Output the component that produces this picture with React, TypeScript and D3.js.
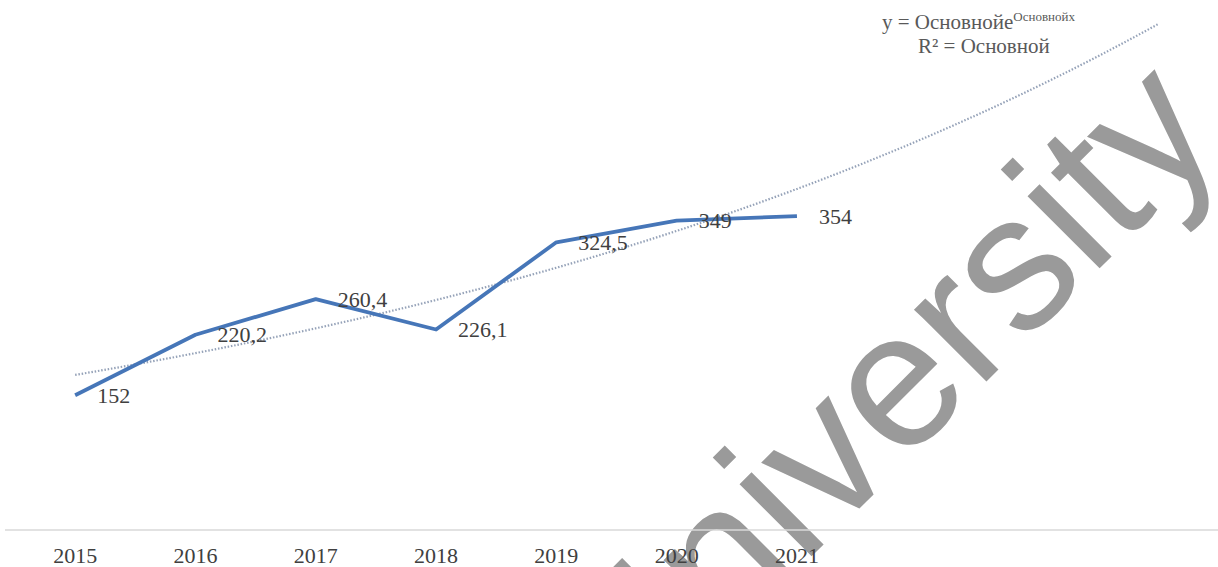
import React from "react";
import * as d3 from "d3";

const years = ["2015", "2016", "2017", "2018", "2019", "2020", "2021"];
const forecastYears = ["2022", "2023", "2024"];
const values = [152, 220.2, 260.4, 226.1, 324.5, 349, 354];
const valueLabels = ["152", "220,2", "260,4", "226,1", "324,5", "349", "354"];
const equationMain = "y = Основнойe";
const equationSup = "Основнойx";
const equationR2 = "R² = Основной";
const watermark = "University";

const W = 1218;
const H = 567;

export default function App() {
  const allYears = [...years, ...forecastYears];
  const x = d3.scalePoint<string>().domain(allYears).range([15, 1218]).padding(0.5);
  const y = d3.scaleLinear().domain([0, 600]).range([530, -2]);

  // exponential trendline (least squares on ln y), x = 1..n
  const xs = values.map((_, i) => i + 1);
  const ls = values.map((v) => Math.log(v));
  const mx = d3.mean(xs)!;
  const ml = d3.mean(ls)!;
  const b = d3.sum(xs.map((xi, i) => (xi - mx) * (ls[i] - ml))) / d3.sum(xs.map((xi) => (xi - mx) ** 2));
  const lnA = ml - b * mx;
  const xi = d3.scaleLinear().domain([1, allYears.length]).range([x(allYears[0])!, x(allYears[allYears.length - 1])!]);
  const trendPts: [number, number][] = d3.range(1, allYears.length + 0.001, 0.1).map((t) => [xi(t), y(Math.exp(lnA + b * t))]);
  const trendPath = d3.line()(trendPts) || "";

  const linePath =
    d3
      .line<number>()
      .x((_, i) => x(years[i])!)
      .y((v) => y(v))(values) || "";

  const serif = "'Liberation Serif', 'Times New Roman', serif";

  return (
    <svg width={W} height={H} style={{ position: "absolute", left: 0, top: 0, background: "#fff" }}>
      <rect width={W} height={H} fill="#fff" />
      {/* watermark */}
      <text
        transform="translate(628,740) rotate(-45)"
        fontFamily="'Liberation Sans', Arial, sans-serif"
        fontSize={193}
        fill="#9a9a9a"
      >
        {watermark}
      </text>
      {/* axis line */}
      <line x1={5} x2={W} y1={y(0)} y2={y(0)} stroke="#d9d9d9" strokeWidth={1.5} />
      {/* trendline */}
      <path d={trendPath} fill="none" stroke="#95a2b8" strokeWidth={2.2} strokeDasharray="1.5 1.8" />
      {/* series line */}
      <path d={linePath} fill="none" stroke="#4676b8" strokeWidth={3.8} strokeLinejoin="round" />
      {/* data labels */}
      {values.map((v, i) => (
        <text
          key={"l" + i}
          x={x(years[i])! + 22}
          y={y(v)}
          dy="0.35em"
          fontFamily={serif}
          fontSize={22}
          fill="#404040"
        >
          {valueLabels[i]}
        </text>
      ))}
      {/* x labels */}
      {years.map((yr) => (
        <text key={yr} x={x(yr)!} y={563} textAnchor="middle" fontFamily={serif} fontSize={22} fill="#404040">
          {yr}
        </text>
      ))}
      {/* equation */}
      <text x={882} y={29} fontFamily={serif} fontSize={21} fill="#595959">
        {equationMain}
        <tspan fontSize={13} dy={-8}>
          {equationSup}
        </tspan>
      </text>
      <text x={918} y={53} fontFamily={serif} fontSize={21} fill="#595959">
        {equationR2}
      </text>
    </svg>
  );
}
